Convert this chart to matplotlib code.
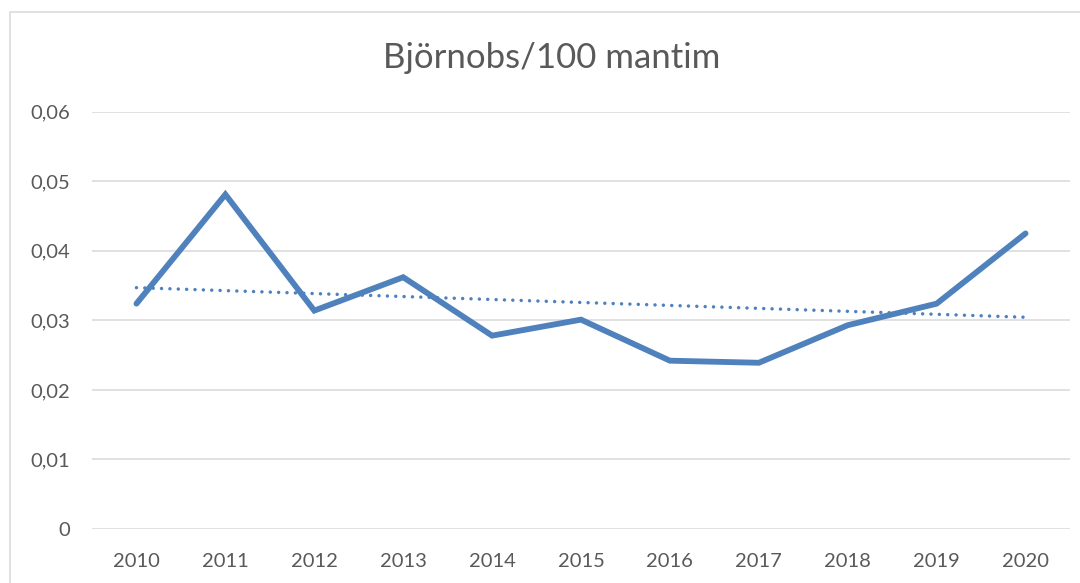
import numpy as np
import matplotlib
matplotlib.use('Agg')
import matplotlib.pyplot as plt
from matplotlib.ticker import FuncFormatter
from matplotlib.patches import Rectangle

years = [2010, 2011, 2012, 2013, 2014, 2015, 2016, 2017, 2018, 2019, 2020]
bjornobs = [0.0324, 0.0481, 0.0314, 0.0362, 0.0278, 0.0301, 0.0242, 0.0239, 0.0293, 0.0324, 0.0425]
y_ticks = [0, 0.01, 0.02, 0.03, 0.04, 0.05, 0.06]
title = 'Björnobs/100 mantim'

plt.rcParams['font.family'] = ['Lato', 'DejaVu Sans']
text_color = '#595959'
line_color = '#4F81BD'

fig = plt.figure(figsize=(10.8, 5.83), dpi=100)
ax = fig.add_axes([92 / 1080, 54 / 583, 978 / 1080, 417.3 / 583])

x = np.arange(len(years))
ax.plot(x, bjornobs, color=line_color, linewidth=4.2, solid_joinstyle='miter',
        solid_capstyle='round', zorder=3)

# linjär trendlinje som i Excel
k, m = np.polyfit(x, bjornobs, 1)
ax.plot(x, k * x + m, color=line_color, linewidth=2.5, linestyle=(0, (0.01, 2.4)),
        dash_capstyle='round', zorder=2)

ax.set_xlim(-0.5, len(years) - 0.5)
ax.set_ylim(0, 0.06)
ax.set_yticks(y_ticks)
ax.yaxis.set_major_formatter(FuncFormatter(lambda v, p: '0' if v == 0 else f'{v:.2f}'.replace('.', ',')))
ax.set_xticks(x)
ax.set_xticklabels([str(y) for y in years])

ax.grid(axis='y', color='#D9D9D9', linewidth=1.1)
ax.set_axisbelow(True)
for s in ax.spines.values():
    s.set_visible(False)
ax.tick_params(axis='both', length=0, labelsize=14.5, labelcolor=text_color)
ax.tick_params(axis='y', pad=16)
ax.tick_params(axis='x', pad=17.5)

fig.text(552 / 1080, 1 - 58 / 583, title, ha='center', va='center', fontsize=25, color=text_color)

# diagramram (syns bara uppe och till vänster)
fig.patches.append(Rectangle((10 / 1080, -0.1), 1.2, 1 - 12 / 583 + 0.1, transform=fig.transFigure,
                             fill=False, edgecolor='#D9D9D9', linewidth=1.1))

fig.savefig('out.png', dpi=100)
